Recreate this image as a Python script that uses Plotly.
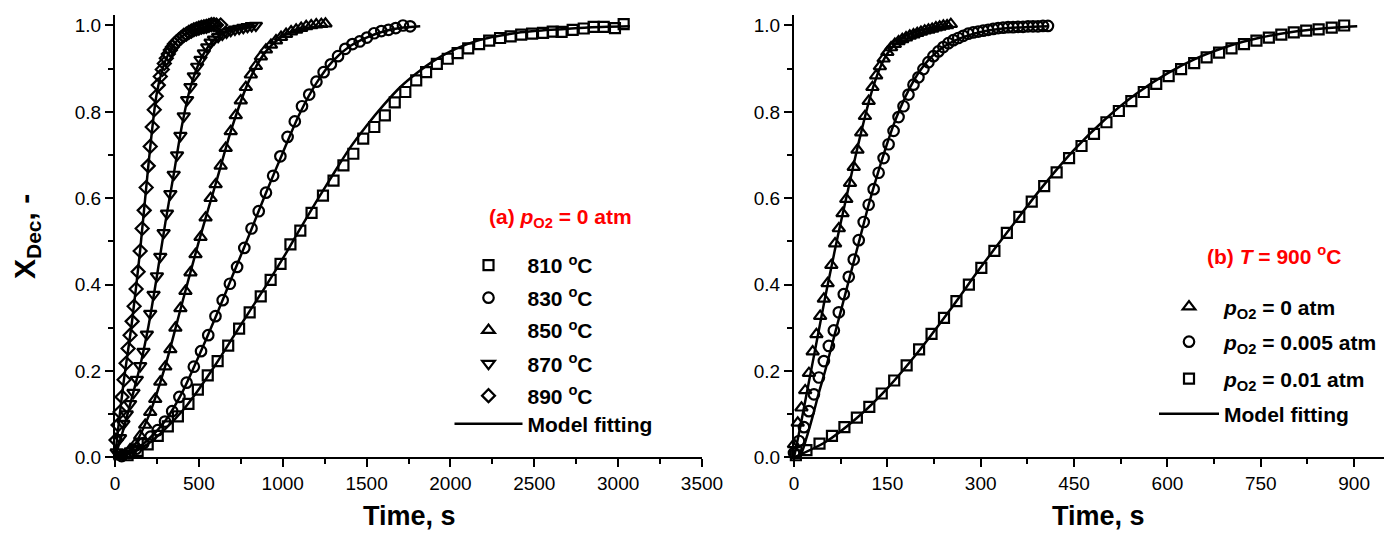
import plotly.graph_objects as go

# ---------------- Panel (a): pO2 = 0 atm, different temperatures ----------------
t810 = [75, 135, 195, 255, 315, 375, 438, 494, 553, 612, 675, 740, 803, 869, 928, 987, 1046, 1105, 1172, 1240,
        1303, 1362, 1421, 1480, 1546, 1609, 1668, 1731, 1796, 1855, 1919, 1984, 2043, 2106, 2171, 2231, 2296, 2359,
        2422, 2487, 2552, 2610, 2663, 2729, 2795, 2854, 2914, 2981, 3033]
x810 = [0.005, 0.015, 0.03, 0.05, 0.072, 0.095, 0.124, 0.157, 0.19, 0.223, 0.259, 0.298, 0.336, 0.373, 0.411,
        0.448, 0.493, 0.525, 0.566, 0.606, 0.641, 0.676, 0.703, 0.738, 0.765, 0.792, 0.822, 0.846, 0.873, 0.892,
        0.911, 0.923, 0.936, 0.947, 0.957, 0.965, 0.971, 0.975, 0.979, 0.981, 0.983, 0.986, 0.985, 0.99, 0.993,
        0.997, 0.997, 0.994, 1.003]
fit810_t = [0, 100, 200, 300, 400, 500, 600, 700, 800, 900, 1000, 1100, 1200, 1300, 1400, 1500, 1600, 1700, 1800,
            1900, 2000, 2100, 2200, 2300, 2400, 2500, 2600, 2800, 3070]
fit810_x = [0.0, 0.01, 0.032, 0.066, 0.107, 0.158, 0.215, 0.276, 0.337, 0.397, 0.46, 0.527, 0.592, 0.655, 0.716,
            0.768, 0.815, 0.857, 0.89, 0.918, 0.94, 0.957, 0.969, 0.977, 0.983, 0.987, 0.99, 0.995, 0.998]

t830 = [40, 83, 126, 169, 212, 255, 298, 341, 384, 427, 470, 513, 556, 599, 642, 685, 728, 771, 814, 857, 900,
        943, 986, 1029, 1072, 1115, 1158, 1201, 1244, 1287, 1330, 1373, 1416, 1459, 1502, 1545, 1588, 1631, 1674,
        1717, 1760]
x830 = [0.003, 0.01, 0.02, 0.033, 0.048, 0.063, 0.083, 0.107, 0.14, 0.173, 0.21, 0.246, 0.283, 0.327, 0.364,
        0.402, 0.441, 0.485, 0.53, 0.57, 0.613, 0.652, 0.697, 0.742, 0.778, 0.813, 0.84, 0.87, 0.892, 0.91, 0.929,
        0.946, 0.957, 0.963, 0.972, 0.982, 0.987, 0.99, 0.994, 1.0, 0.998]
fit830_t = [0, 100, 200, 300, 400, 500, 600, 700, 800, 900, 1000, 1100, 1200, 1300, 1400, 1500, 1600, 1700, 1820]
fit830_x = [0.0, 0.012, 0.042, 0.085, 0.15, 0.235, 0.325, 0.42, 0.515, 0.612, 0.705, 0.795, 0.866, 0.918, 0.952,
            0.972, 0.986, 0.994, 0.998]

t850 = [30, 60, 90, 120, 150, 180, 210, 240, 270, 300, 330, 360, 390, 420, 450, 480, 510, 540, 570, 600, 630, 660,
        690, 720, 750, 780, 810, 840, 870, 900, 930, 960, 990, 1020, 1050, 1080, 1110, 1140, 1170, 1200, 1230, 1255]
x850 = [0.002, 0.008, 0.018, 0.03, 0.05, 0.075, 0.105, 0.135, 0.175, 0.21, 0.25, 0.3, 0.345, 0.385, 0.428, 0.47,
        0.51, 0.555, 0.6, 0.632, 0.675, 0.716, 0.755, 0.792, 0.826, 0.857, 0.886, 0.906, 0.928, 0.944, 0.955, 0.965,
        0.973, 0.98, 0.986, 0.99, 0.994, 0.998, 1.0, 1.002, 1.003, 1.004]
fit850_t = [0, 100, 200, 300, 400, 500, 600, 700, 800, 900, 1000, 1100, 1250]
fit850_x = [0.0, 0.02, 0.095, 0.212, 0.357, 0.5, 0.633, 0.767, 0.873, 0.94, 0.975, 0.992, 0.999]

t870 = [10, 30, 50, 70, 90, 110, 130, 150, 170, 190, 210, 230, 250, 270, 290, 310, 330, 350, 370, 390, 410, 430,
        450, 470, 490, 510, 530, 550, 570, 590, 615, 640, 665, 690, 715, 740, 765, 790, 815, 840]
x870 = [0.012, 0.045, 0.078, 0.1, 0.124, 0.15, 0.18, 0.212, 0.245, 0.285, 0.333, 0.377, 0.42, 0.465, 0.52, 0.565,
        0.61, 0.655, 0.70, 0.745, 0.79, 0.828, 0.858, 0.883, 0.905, 0.921, 0.936, 0.95, 0.961, 0.968, 0.974, 0.979,
        0.984, 0.988, 0.991, 0.993, 0.995, 0.997, 0.999, 1.0]
fit870_t = [0, 50, 100, 150, 200, 250, 300, 350, 400, 450, 500, 550, 600, 700, 840]
fit870_x = [0.0, 0.065, 0.137, 0.212, 0.305, 0.42, 0.543, 0.655, 0.77, 0.857, 0.912, 0.948, 0.97, 0.99, 0.999]

t890 = [6, 18, 30, 42, 54, 66, 78, 90, 102, 114, 126, 138, 150, 162, 174, 186, 198, 210, 222, 234, 246, 258, 270,
        282, 294, 306, 318, 330, 342, 354, 366, 380, 395, 410, 425, 440, 455, 470, 485, 500, 515, 530, 545, 560, 575,
        590, 605, 630]
x890 = [0.04, 0.075, 0.105, 0.14, 0.18, 0.218, 0.252, 0.283, 0.315, 0.35, 0.39, 0.43, 0.478, 0.53, 0.572, 0.625,
        0.675, 0.72, 0.765, 0.805, 0.836, 0.862, 0.882, 0.898, 0.912, 0.924, 0.934, 0.943, 0.95, 0.957, 0.962, 0.967,
        0.972, 0.977, 0.98, 0.984, 0.987, 0.99, 0.992, 0.994, 0.996, 0.997, 0.998, 1.0, 1.002, 1.002, 1.001, 1.001]
fit890_t = [0, 20, 50, 100, 150, 200, 250, 300, 350, 400, 500, 640]
fit890_x = [0.0, 0.07, 0.17, 0.31, 0.48, 0.68, 0.845, 0.918, 0.955, 0.975, 0.993, 1.0]

# ---------------- Panel (b): T = 900 C, different pO2 ----------------
tA = [0, 6, 12, 18, 24, 30, 36, 42, 48, 54, 60, 66, 72, 78, 84, 90, 96, 102, 108, 114, 120, 126, 132, 138, 144, 150,
      156, 162, 168, 174, 180, 186, 192, 198, 204, 210, 216, 222, 228, 234, 240, 246, 252]
xA = [0.03, 0.08, 0.115, 0.155, 0.195, 0.245, 0.285, 0.327, 0.367, 0.403, 0.445, 0.495, 0.53, 0.565, 0.598, 0.635,
      0.672, 0.712, 0.752, 0.79, 0.825, 0.857, 0.884, 0.905, 0.923, 0.938, 0.949, 0.957, 0.963, 0.968, 0.972, 0.976,
      0.979, 0.982, 0.985, 0.988, 0.99, 0.992, 0.995, 0.997, 0.999, 1.0, 1.003]
fitA_t = [0, 10, 20, 30, 40, 50, 60, 70, 80, 90, 100, 110, 120, 130, 140, 150, 165, 180, 200, 225, 255]
fitA_x = [0.0, 0.07, 0.145, 0.22, 0.295, 0.37, 0.44, 0.51, 0.575, 0.64, 0.705, 0.765, 0.822, 0.87, 0.908, 0.935,
          0.96, 0.977, 0.988, 0.995, 0.999]

tB = [0, 8, 16, 24, 32, 40, 48, 56, 64, 72, 80, 88, 96, 104, 112, 120, 128, 136, 144, 152, 160, 168, 176, 184, 192,
      200, 208, 216, 224, 232, 240, 248, 256, 264, 272, 280, 288, 296, 304, 312, 320, 328, 336, 344, 352, 360, 368,
      376, 384, 392, 400, 408]
xB = [0.01, 0.038, 0.07, 0.107, 0.146, 0.185, 0.223, 0.258, 0.294, 0.336, 0.378, 0.418, 0.458, 0.503, 0.545, 0.585,
      0.621, 0.659, 0.693, 0.725, 0.756, 0.788, 0.813, 0.84, 0.863, 0.88, 0.899, 0.915, 0.929, 0.94, 0.95, 0.959,
      0.966, 0.971, 0.976, 0.981, 0.984, 0.986, 0.988, 0.99, 0.992, 0.994, 0.995, 0.996, 0.996, 0.997, 0.997, 0.998,
      0.998, 0.998, 0.999, 0.999]
fitB_t = [0, 10, 20, 30, 40, 50, 60, 70, 80, 90, 100, 110, 120, 130, 140, 150, 160, 170, 180, 190, 200, 220, 240,
          260, 280, 300, 330, 370, 410]
fitB_x = [0.0, 0.005, 0.045, 0.095, 0.15, 0.2, 0.255, 0.31, 0.365, 0.42, 0.475, 0.53, 0.585, 0.635, 0.683, 0.728,
          0.77, 0.806, 0.838, 0.866, 0.89, 0.926, 0.95, 0.966, 0.977, 0.985, 0.992, 0.996, 0.998]

tC = [3, 20, 41, 61, 81, 101, 121, 141, 161, 181, 201, 221, 241, 261, 281, 301, 322, 342, 362, 382, 402, 422, 442,
      462, 482, 502, 522, 542, 562, 582, 602, 622, 643, 663, 683, 703, 723, 743, 763, 783, 803, 823, 843, 864, 884]
xC = [0.005, 0.017, 0.032, 0.05, 0.07, 0.092, 0.117, 0.148, 0.178, 0.213, 0.25, 0.286, 0.323, 0.362, 0.4, 0.439,
      0.478, 0.52, 0.557, 0.592, 0.628, 0.66, 0.693, 0.721, 0.749, 0.776, 0.802, 0.825, 0.846, 0.865, 0.883, 0.899,
      0.913, 0.926, 0.937, 0.947, 0.957, 0.965, 0.972, 0.979, 0.984, 0.988, 0.991, 0.995, 1.0]
fitC_t = [0, 50, 100, 150, 200, 250, 300, 350, 400, 450, 500, 550, 600, 650, 700, 750, 800, 850, 905]
fitC_x = [0.0, 0.035, 0.09, 0.16, 0.245, 0.34, 0.44, 0.535, 0.628, 0.712, 0.783, 0.842, 0.889, 0.926, 0.953, 0.972,
          0.985, 0.993, 0.998]

labels_a = ["810 <sup>o</sup>C", "830 <sup>o</sup>C", "850 <sup>o</sup>C", "870 <sup>o</sup>C", "890 <sup>o</sup>C"]
labels_b = ["<i>p</i><sub>O2</sub> = 0 atm", "<i>p</i><sub>O2</sub> = 0.005 atm", "<i>p</i><sub>O2</sub> = 0.01 atm"]
fit_label = "Model fitting"
xticks_a = [0, 500, 1000, 1500, 2000, 2500, 3000, 3500]
xticks_b = [0, 150, 300, 450, 600, 750, 900]
yticks = [0.0, 0.2, 0.4, 0.6, 0.8, 1.0]

# ---------------- styling ----------------
W, H = 1384, 534
FONT = "Liberation Sans, Arial, Helvetica, sans-serif"
BLACK = "#000000"
RED = "#ff0000"
MS = 10
MLW = 2.2
FITW = 2.5


def px(x):
    return x / W


def py(y):
    return 1 - y / H


fig = go.Figure()

series_a = [
    (t810, x810, "square-open", MS, labels_a[0], "legend"),
    (t830, x830, "circle-open", MS + 0.5, labels_a[1], "legend2"),
    (t850, x850, "triangle-up-open", MS + 1, labels_a[2], "legend3"),
    (t870, x870, "triangle-down-open", MS + 1, labels_a[3], "legend4"),
    (t890, x890, "diamond-open", MS, labels_a[4], "legend5"),
]
fits_a = [(fit810_t, fit810_x), (fit830_t, fit830_x), (fit850_t, fit850_x), (fit870_t, fit870_x), (fit890_t, fit890_x)]

for (tt, xx, sym, size, name, leg) in series_a:
    fig.add_trace(go.Scatter(x=tt, y=xx, mode="markers", name=name, legend=leg, cliponaxis=False, showlegend=True,
                             marker=dict(symbol=sym, size=size, color=BLACK, line=dict(color=BLACK, width=MLW)),
                             xaxis="x", yaxis="y"))
for i, (tt, xx) in enumerate(fits_a):
    fig.add_trace(go.Scatter(x=tt, y=xx, mode="lines", name=fit_label, legend="legend6", showlegend=(i == 0),
                             line=dict(color=BLACK, width=FITW, shape="spline", smoothing=0.8), cliponaxis=False,
                             xaxis="x", yaxis="y"))

series_b = [
    (tA, xA, "triangle-up-open", MS + 1, labels_b[0], "legend7"),
    (tB, xB, "circle-open", MS + 0.5, labels_b[1], "legend8"),
    (tC, xC, "square-open", MS, labels_b[2], "legend9"),
]
fits_b = [(fitA_t, fitA_x), (fitB_t, fitB_x), (fitC_t, fitC_x)]
for (tt, xx, sym, size, name, leg) in series_b:
    fig.add_trace(go.Scatter(x=tt, y=xx, mode="markers", name=name, legend=leg, cliponaxis=False, showlegend=True,
                             marker=dict(symbol=sym, size=size, color=BLACK, line=dict(color=BLACK, width=MLW)),
                             xaxis="x2", yaxis="y2"))
for i, (tt, xx) in enumerate(fits_b):
    fig.add_trace(go.Scatter(x=tt, y=xx, mode="lines", name=fit_label, legend="legend10", showlegend=(i == 0),
                             line=dict(color=BLACK, width=FITW, shape="spline", smoothing=0.8), cliponaxis=False,
                             xaxis="x2", yaxis="y2"))

tickfont = dict(family=FONT, size=19, color=BLACK)
axis_common = dict(showline=True, linecolor=BLACK, linewidth=2, ticks="outside", ticklen=8, tickwidth=2,
                   tickcolor=BLACK, showgrid=False, zeroline=False, tickfont=tickfont, automargin=False,
                   mirror=False)

YDOM = [py(457.4), py(15.3)]
fig.update_layout(
    width=W, height=H,
    margin=dict(l=0, r=0, t=0, b=0),
    paper_bgcolor="white", plot_bgcolor="white",
    template="none",
    showlegend=True,
    xaxis=dict(domain=[px(115), px(702)], range=[0, 3500], tickvals=xticks_a, anchor="y",
               minor=dict(dtick=250, tick0=0, ticks="outside", ticklen=5, tickwidth=2, tickcolor=BLACK),
               **axis_common),
    yaxis=dict(domain=YDOM, range=[0, 1.0236], tickvals=yticks, tickformat=".1f", anchor="x",
               minor=dict(dtick=0.1, tick0=0, ticks="outside", ticklen=5, tickwidth=2, tickcolor=BLACK),
               **axis_common),
    xaxis2=dict(domain=[px(794), 1.0], range=[0, 948], tickvals=xticks_b, anchor="y2",
                minor=dict(dtick=75, tick0=0, ticks="outside", ticklen=5, tickwidth=2, tickcolor=BLACK),
                **axis_common),
    yaxis2=dict(domain=YDOM, range=[0, 1.0236], tickvals=yticks, tickformat=".1f", anchor="x2",
                minor=dict(dtick=0.1, tick0=0, ticks="outside", ticklen=5, tickwidth=2, tickcolor=BLACK),
                **axis_common),
)

legfont = dict(family=FONT, size=21, color=BLACK, weight="bold")


def make_legend(mx, my, itemwidth):
    # mx, my: desired marker centre in pixels
    off = (itemwidth + 10) / 2
    return dict(x=px(mx - off), y=py(my), xanchor="left", yanchor="middle", bgcolor="rgba(0,0,0,0)",
                borderwidth=0, font=legfont, itemwidth=itemwidth, itemclick=False, itemdoubleclick=False,
                visible=True)


rows_a = [265.5, 298, 330.5, 364, 396, 424]
rows_b = [307, 342, 379, 414]
legs = {}
for i, r in enumerate(rows_a):
    key = "legend" if i == 0 else "legend%d" % (i + 1)
    legs[key] = make_legend(488.5, r, 68)
for i, r in enumerate(rows_b):
    legs["legend%d" % (i + 7)] = make_legend(1189, r, 60)
fig.update_layout(**legs)

bold = lambda s: dict(family=FONT, size=s, color=BLACK, weight="bold")
annotations = [
    dict(text="Time, s", x=px(410), y=py(516), xref="paper", yref="paper", showarrow=False,
         font=bold(27), xanchor="center", yanchor="middle"),
    dict(text="Time, s", x=px(1098), y=py(516), xref="paper", yref="paper", showarrow=False,
         font=bold(27), xanchor="center", yanchor="middle"),
    dict(text="X<sub>Dec</sub>, -", x=px(26), y=py(237), xref="paper", yref="paper", showarrow=False,
         font=bold(30), textangle=-90, xanchor="center", yanchor="middle"),
    dict(text="(a) <i>p</i><sub>O2</sub> = 0 atm", x=px(560), y=py(218), xref="paper", yref="paper",
         showarrow=False, font=dict(family=FONT, size=21, color=RED, weight="bold"),
         xanchor="center", yanchor="middle"),
    dict(text="(b) <i>T</i> = 900 <sup>o</sup>C", x=px(1274), y=py(255), xref="paper", yref="paper",
         showarrow=False, font=dict(family=FONT, size=21, color=RED, weight="bold"),
         xanchor="center", yanchor="middle"),
]
fig.update_layout(annotations=annotations)

fig.write_html("out.html", config={"displayModeBar": False})
